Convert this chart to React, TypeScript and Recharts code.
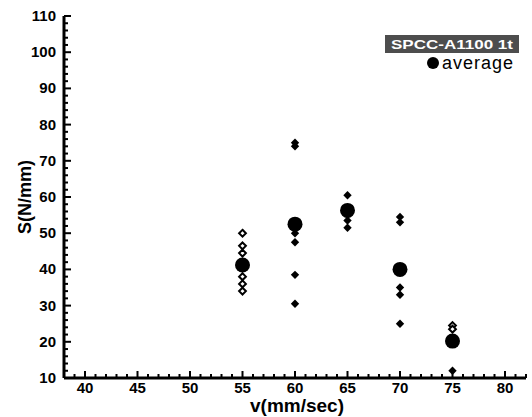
import { ScatterChart, Scatter, XAxis, YAxis } from 'recharts';

// speed (mm/sec) and S (N/mm)
const openV = [55, 55, 55, 55, 55, 55, 75, 75];
const openS = [50, 46.5, 44.5, 38, 36, 34, 24.5, 23.5];

const filledV = [60, 60, 60, 60, 60, 60, 65, 65, 65, 65, 70, 70, 70, 70, 70, 75];
const filledS = [75, 74, 50, 47.5, 38.5, 30.5, 60.5, 55, 53.5, 51.5, 54.5, 53, 35, 33, 25, 12];

const avgV = [55, 60, 65, 70, 75];
const avgS = [41.2, 52.5, 56.3, 40, 20.2];

const xTicks = Array.from({ length: 45 }, (_, i) => 38 + i);
const yTicks = Array.from({ length: 51 }, (_, i) => 10 + i * 2);

const FONT = 'Liberation Sans, Arial, Helvetica, sans-serif';

const toPoints = (xs: number[], ys: number[]) => xs.map((v, i) => ({ v, s: ys[i] }));
const openData = toPoints(openV, openS);
const filledData = toPoints(filledV, filledS);
const avgData = toPoints(avgV, avgS);

const diamond = (cx: number, cy: number, r: number) =>
  `${cx},${cy - r} ${cx + r},${cy} ${cx},${cy + r} ${cx - r},${cy}`;

const FilledDiamond = (p: any) => <polygon points={diamond(p.cx, p.cy, 4.2)} fill="#000" />;
const OpenDiamond = (p: any) => (
  <polygon points={diamond(p.cx, p.cy, 3.4)} fill="#fff" stroke="#000" strokeWidth={2} />
);
const AvgDot = (p: any) => <circle cx={p.cx} cy={p.cy} r={7.5} fill="#000" />;

const renderYTick = (props: any) => {
  const { x, y, payload } = props;
  const major = payload.value % 10 === 0;
  return (
    <g>
      <line x1={x} x2={x + (major ? 7 : 4)} y1={y} y2={y} stroke="#000" strokeWidth={2} />
      {major && (
        <text x={x - 8} y={y + 5} textAnchor="end" fill="#000" fontFamily={FONT} fontWeight={700} fontSize={15}>
          {payload.value}
        </text>
      )}
    </g>
  );
};

const renderXTick = (props: any) => {
  const { x, y, payload } = props;
  const major = payload.value % 5 === 0;
  return (
    <g>
      <line x1={x} x2={x} y1={y} y2={y - (major ? 7 : 4)} stroke="#000" strokeWidth={2} />
      {major && (
        <text x={x} y={y + 15} textAnchor="middle" fill="#000" fontFamily={FONT} fontWeight={700} fontSize={15}>
          {payload.value}
        </text>
      )}
    </g>
  );
};

export default function App() {
  return (
    <div style={{ position: 'absolute', left: 0, top: 0, width: 532, height: 417, background: '#fff' }}>
      <ScatterChart width={532} height={417} margin={{ top: 16, right: 6, bottom: 0, left: 0 }}>
        <XAxis
          type="number"
          dataKey="v"
          domain={[38, 82]}
          ticks={xTicks}
          interval={0}
          height={39}
          tickSize={0}
          tickMargin={0}
          tickLine={false}
          tick={renderXTick}
          axisLine={{ stroke: '#000', strokeWidth: 3 }}
        />
        <YAxis
          type="number"
          dataKey="s"
          domain={[10, 110]}
          ticks={yTicks}
          interval={0}
          width={64}
          tickSize={0}
          tickMargin={0}
          tickLine={false}
          tick={renderYTick}
          axisLine={{ stroke: '#000', strokeWidth: 3 }}
        />
        <Scatter data={openData} shape={<OpenDiamond />} isAnimationActive={false} />
        <Scatter data={filledData} shape={<FilledDiamond />} isAnimationActive={false} />
        <Scatter data={avgData} shape={<AvgDot />} isAnimationActive={false} />
      </ScatterChart>
      <svg width={532} height={417} style={{ position: 'absolute', left: 0, top: 0, pointerEvents: 'none' }}>
        <text x={297} y={412} textAnchor="middle" fill="#000" fontFamily={FONT} fontWeight={700} fontSize={19}>
          v(mm/sec)
        </text>
        <text
          transform="translate(31,197) rotate(-90)"
          textAnchor="middle"
          fill="#000"
          fontFamily={FONT}
          fontWeight={700}
          fontSize={18}
        >
          S(N/mm)
        </text>
        <rect x={385} y={35} width={134} height={18} fill="#4d4d4d" />
        <text
          x={391}
          y={49}
          textLength={122}
          lengthAdjust="spacingAndGlyphs"
          fill="#fff"
          fontFamily={FONT}
          fontWeight={700}
          fontSize={13}
        >
          SPCC-A1100 1t
        </text>
        <circle cx={433} cy={63} r={6} fill="#000" />
        <text x={442} y={69} letterSpacing={1} fill="#000" fontFamily={FONT} fontSize={18}>
          average
        </text>
      </svg>
    </div>
  );
}
